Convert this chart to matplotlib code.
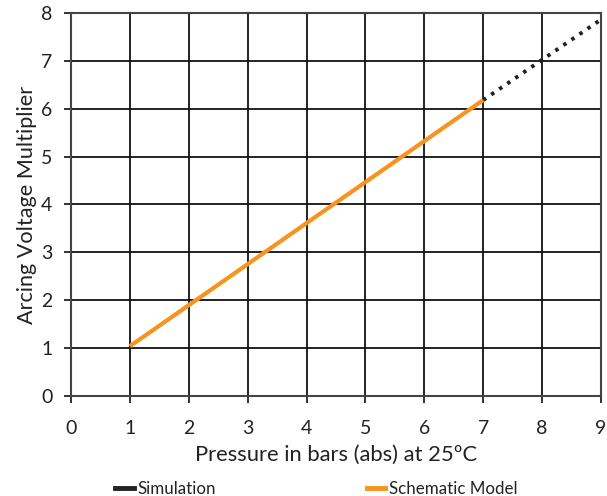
import matplotlib
matplotlib.use("Agg")
import matplotlib.pyplot as plt
from matplotlib.lines import Line2D

# data
model_x = [1, 7]
model_y = [1.04, 6.18]
sim_x = [7, 9]
sim_y = [6.18, 7.86]

xticks = list(range(0, 10))
yticks = list(range(0, 9))

plt.rcParams['font.family'] = ['Lato', 'DejaVu Sans']

fig = plt.figure(figsize=(6.07, 4.96), dpi=100)
ax = fig.add_axes([0.117, 0.2016, 0.873, 0.7724])

ax.plot(sim_x, sim_y, color="#222222", lw=2.8, linestyle=(0, (0.9, 1.6)), zorder=3)
ax.plot(model_x, model_y, color="#f7931e", lw=3, solid_capstyle="butt", zorder=4)

ax.set_xlim(0, 9)
ax.set_ylim(0, 8)
ax.set_xticks(xticks)
ax.set_yticks(yticks)
ax.grid(True, color="#111111", lw=1.3)
ax.set_axisbelow(True)
for s in ax.spines.values():
    s.set_color("#444444")
    s.set_linewidth(1.5)
ax.tick_params(axis="both", length=5, width=1.3, color="#222222",
               labelsize=14, labelcolor="#222222")
ax.tick_params(axis="x", pad=12)
ax.tick_params(axis="y", pad=8.5)

ax.set_xlabel("Pressure in bars (abs) at 25ºC", fontsize=15.8, color="#222222", labelpad=6)
ax.set_ylabel("Arcing Voltage Multiplier", fontsize=15.6, color="#222222", labelpad=3)

handles = [Line2D([], [], color="#222222", lw=3.5),
           Line2D([], [], color="#f7931e", lw=3.5)]
fig.legend(handles, ["Simulation", "Schematic Model"], loc="lower center",
           bbox_to_anchor=(0.521, -0.032), ncol=2, frameon=False, fontsize=12.2,
           handlelength=1.1, handletextpad=0.2, columnspacing=8.9,
           labelcolor="#222222")

fig.savefig("out.png", dpi=100)
